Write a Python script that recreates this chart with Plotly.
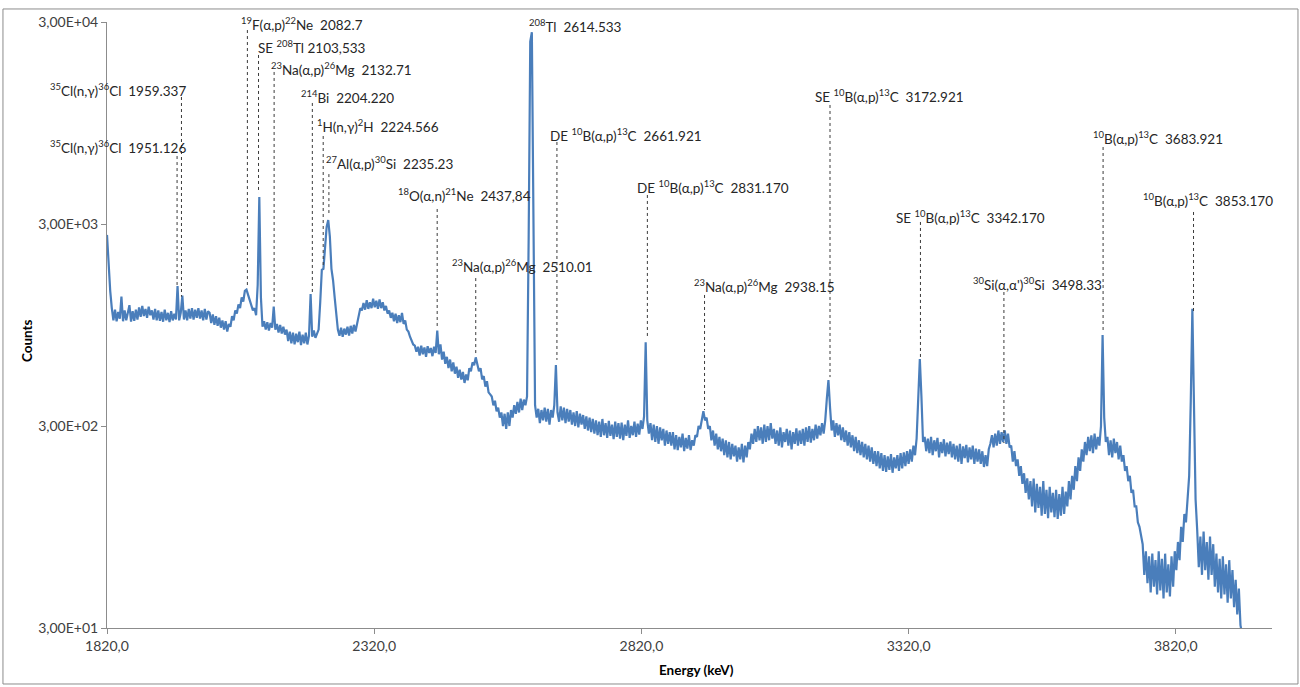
import math
import plotly.graph_objects as go

# ---------------- data ----------------
# spectrum channels (keV) and counts, 16 channels per row
energy_kev = [
    1820, 1823, 1826, 1829, 1832, 1835, 1838, 1841, 1844, 1847, 1850, 1853, 1856, 1859, 1862, 1865,
    1868, 1871, 1874, 1877, 1880, 1883, 1886, 1889, 1892, 1895, 1898, 1901, 1904, 1907, 1910, 1913,
    1916, 1919, 1922, 1925, 1928, 1931, 1934, 1937, 1940, 1943, 1946, 1949, 1952, 1955, 1958, 1961,
    1964, 1967, 1970, 1973, 1976, 1979, 1982, 1985, 1988, 1991, 1994, 1997, 2000, 2003, 2006, 2009,
    2012, 2015, 2018, 2021, 2024, 2027, 2030, 2033, 2036, 2039, 2042, 2045, 2048, 2051, 2054, 2057,
    2060, 2063, 2066, 2069, 2072, 2075, 2078, 2081, 2084, 2087, 2090, 2093, 2096, 2099, 2102, 2105,
    2108, 2111, 2114, 2117, 2120, 2123, 2126, 2129, 2132, 2135, 2138, 2141, 2144, 2147, 2150, 2153,
    2156, 2159, 2162, 2165, 2168, 2171, 2174, 2177, 2180, 2183, 2186, 2189, 2192, 2195, 2198, 2201,
    2204, 2207, 2210, 2213, 2216, 2219, 2222, 2225, 2228, 2231, 2234, 2237, 2240, 2243, 2246, 2249,
    2252, 2255, 2258, 2261, 2264, 2267, 2270, 2273, 2276, 2279, 2282, 2285, 2288, 2291, 2294, 2297,
    2300, 2303, 2306, 2309, 2312, 2315, 2318, 2321, 2324, 2327, 2330, 2333, 2336, 2339, 2342, 2345,
    2348, 2351, 2354, 2357, 2360, 2363, 2366, 2369, 2372, 2375, 2378, 2381, 2384, 2387, 2390, 2393,
    2396, 2399, 2402, 2405, 2408, 2411, 2414, 2417, 2420, 2423, 2426, 2429, 2432, 2435, 2438, 2441,
    2444, 2447, 2450, 2453, 2456, 2459, 2462, 2465, 2468, 2471, 2474, 2477, 2480, 2483, 2486, 2489,
    2492, 2495, 2498, 2501, 2504, 2507, 2510, 2513, 2516, 2519, 2522, 2525, 2528, 2531, 2534, 2537,
    2540, 2543, 2546, 2549, 2552, 2555, 2558, 2561, 2564, 2567, 2570, 2573, 2576, 2579, 2582, 2585,
    2588, 2591, 2594, 2597, 2600, 2603, 2606, 2609, 2612, 2615, 2618, 2621, 2624, 2627, 2630, 2633,
    2636, 2639, 2642, 2645, 2648, 2651, 2654, 2657, 2660, 2663, 2666, 2669, 2672, 2675, 2678, 2681,
    2684, 2687, 2690, 2693, 2696, 2699, 2702, 2705, 2708, 2711, 2714, 2717, 2720, 2723, 2726, 2729,
    2732, 2735, 2738, 2741, 2744, 2747, 2750, 2753, 2756, 2759, 2762, 2765, 2768, 2771, 2774, 2777,
    2780, 2783, 2786, 2789, 2792, 2795, 2798, 2801, 2804, 2807, 2810, 2813, 2816, 2819, 2822, 2825,
    2828, 2831, 2834, 2837, 2840, 2843, 2846, 2849, 2852, 2855, 2858, 2861, 2864, 2867, 2870, 2873,
    2876, 2879, 2882, 2885, 2888, 2891, 2894, 2897, 2900, 2903, 2906, 2909, 2912, 2915, 2918, 2921,
    2924, 2927, 2930, 2933, 2936, 2939, 2942, 2945, 2948, 2951, 2954, 2957, 2960, 2963, 2966, 2969,
    2972, 2975, 2978, 2981, 2984, 2987, 2990, 2993, 2996, 2999, 3002, 3005, 3008, 3011, 3014, 3017,
    3020, 3023, 3026, 3029, 3032, 3035, 3038, 3041, 3044, 3047, 3050, 3053, 3056, 3059, 3062, 3065,
    3068, 3071, 3074, 3077, 3080, 3083, 3086, 3089, 3092, 3095, 3098, 3101, 3104, 3107, 3110, 3113,
    3116, 3119, 3122, 3125, 3128, 3131, 3134, 3137, 3140, 3143, 3146, 3149, 3152, 3155, 3158, 3161,
    3164, 3167, 3170, 3173, 3176, 3179, 3182, 3185, 3188, 3191, 3194, 3197, 3200, 3203, 3206, 3209,
    3212, 3215, 3218, 3221, 3224, 3227, 3230, 3233, 3236, 3239, 3242, 3245, 3248, 3251, 3254, 3257,
    3260, 3263, 3266, 3269, 3272, 3275, 3278, 3281, 3284, 3287, 3290, 3293, 3296, 3299, 3302, 3305,
    3308, 3311, 3314, 3317, 3320, 3323, 3326, 3329, 3332, 3335, 3338, 3341, 3344, 3347, 3350, 3353,
    3356, 3359, 3362, 3365, 3368, 3371, 3374, 3377, 3380, 3383, 3386, 3389, 3392, 3395, 3398, 3401,
    3404, 3407, 3410, 3413, 3416, 3419, 3422, 3425, 3428, 3431, 3434, 3437, 3440, 3443, 3446, 3449,
    3452, 3455, 3458, 3461, 3464, 3467, 3470, 3473, 3476, 3479, 3482, 3485, 3488, 3491, 3494, 3497,
    3500, 3503, 3506, 3509, 3512, 3515, 3518, 3521, 3524, 3527, 3530, 3533, 3536, 3539, 3542, 3545,
    3548, 3551, 3554, 3557, 3560, 3563, 3566, 3569, 3572, 3575, 3578, 3581, 3584, 3587, 3590, 3593,
    3596, 3599, 3602, 3605, 3608, 3611, 3614, 3617, 3620, 3623, 3626, 3629, 3632, 3635, 3638, 3641,
    3644, 3647, 3650, 3653, 3656, 3659, 3662, 3665, 3668, 3671, 3674, 3677, 3680, 3683, 3686, 3689,
    3692, 3695, 3698, 3701, 3704, 3707, 3710, 3713, 3716, 3719, 3722, 3725, 3728, 3731, 3734, 3737,
    3740, 3743, 3746, 3749, 3752, 3755, 3758, 3761, 3764, 3767, 3770, 3773, 3776, 3779, 3782, 3785,
    3788, 3791, 3794, 3797, 3800, 3803, 3806, 3809, 3812, 3815, 3818, 3821, 3824, 3827, 3830, 3833,
    3836, 3839, 3842, 3845, 3848, 3851, 3854, 3857, 3860, 3863, 3866, 3869, 3872, 3875, 3878, 3881,
    3884, 3887, 3890, 3893, 3896, 3899, 3902, 3905, 3908, 3911, 3914, 3917, 3920, 3923, 3926, 3929,
    3932, 3935, 3938, 3941, 3944,
]

counts = [
    2650, 1900, 1400, 1150, 1000, 1130, 990, 1100, 1020, 1310, 990, 1120, 1000, 1090, 1190, 985,
    1110, 995, 1130, 1010, 1160, 1040, 1180, 1050, 1140, 1030, 1170, 1060, 1120, 1010, 1140, 1000,
    1120, 995, 1100, 985, 1130, 1000, 1090, 980, 1110, 1000, 1080, 1010, 1480, 1000, 1090, 1325,
    1010, 1120, 1000, 1140, 1020, 1150, 1010, 1130, 1030, 1150, 1020, 1120, 1000, 1140, 1010, 1110,
    1090, 970, 1070, 950, 1050, 940, 1030, 920, 1000, 900, 990, 880, 960, 930, 1050, 1000,
    1120, 1080, 1200, 1150, 1300, 1240, 1400, 1420, 1330, 1250, 1180, 1120, 1150, 1060, 1500, 4080,
    1300, 930, 990, 900, 980, 890, 970, 920, 1170, 900, 960, 870, 950, 860, 930, 850,
    900, 790, 880, 770, 870, 760, 860, 780, 880, 755, 850, 770, 870, 760, 840, 1350,
    830, 890, 820, 870, 900, 1230, 1780, 1800, 2300, 2900, 3140, 2600, 1800, 1580, 1300, 1050,
    900, 840, 920, 830, 910, 850, 930, 840, 940, 860, 950, 880, 970, 1050, 1150, 1120,
    1220, 1130, 1260, 1140, 1230, 1150, 1280, 1160, 1250, 1140, 1270, 1150, 1230, 1120, 1180, 1080,
    1120, 1030, 1090, 990, 1080, 970, 1060, 980, 1090, 960, 1000, 900, 880, 830, 800, 760,
    750, 700, 740, 670, 750, 680, 735, 660, 745, 690, 730, 665, 740, 690, 890, 680,
    760, 640, 700, 610, 660, 580, 640, 560, 620, 545, 590, 520, 570, 510, 555, 490,
    540, 505, 580, 560, 620, 600, 656, 600, 560, 580, 510, 530, 470, 500, 440, 430,
    420, 380, 400, 355, 370, 330, 350, 300, 345, 290, 350, 300, 360, 330, 380, 345,
    395, 350, 410, 360, 405, 380, 420, 2500, 24000, 26700, 3000, 380, 330, 365, 310, 360,
    320, 370, 315, 365, 305, 360, 330, 380, 601, 350, 315, 375, 320, 370, 310, 365,
    315, 360, 305, 350, 300, 355, 295, 345, 305, 340, 290, 335, 285, 330, 280, 325,
    275, 320, 270, 315, 265, 325, 270, 310, 262, 318, 268, 305, 258, 315, 265, 310,
    260, 312, 255, 305, 268, 320, 262, 300, 270, 315, 265, 308, 272, 320, 290, 335,
    780, 320, 275, 310, 255, 305, 250, 300, 245, 295, 255, 290, 240, 285, 245, 280,
    240, 280, 230, 270, 228, 265, 235, 275, 225, 262, 232, 270, 228, 255, 240, 270,
    265, 300, 290, 330, 355, 320, 330, 290, 300, 255, 285, 240, 275, 230, 265, 225,
    260, 215, 255, 210, 250, 205, 245, 212, 240, 200, 235, 205, 245, 198, 240, 210,
    250, 230, 275, 245, 290, 250, 300, 255, 295, 245, 305, 250, 300, 255, 310, 260,
    290, 245, 285, 240, 295, 235, 280, 250, 290, 240, 285, 230, 280, 245, 292, 240,
    285, 245, 290, 240, 295, 250, 300, 248, 290, 255, 305, 260, 300, 270, 310, 275,
    320, 410, 507, 370, 285, 320, 265, 310, 270, 305, 255, 295, 250, 285, 240, 280,
    235, 270, 225, 265, 220, 255, 215, 250, 210, 245, 205, 240, 200, 235, 195, 225,
    190, 225, 185, 220, 180, 215, 178, 212, 182, 218, 176, 210, 185, 215, 180, 220,
    185, 222, 190, 225, 195, 230, 200, 240, 215, 260, 450, 643, 420, 250, 265, 225,
    260, 220, 265, 215, 255, 225, 262, 210, 250, 220, 258, 212, 248, 218, 252, 210,
    245, 205, 240, 200, 245, 195, 238, 208, 242, 198, 235, 205, 240, 195, 232, 200,
    230, 195, 225, 188, 215, 190, 230, 245, 270, 235, 275, 240, 285, 245, 280, 250,
    285, 245, 275, 235, 240, 200, 225, 190, 205, 170, 190, 155, 175, 140, 165, 130,
    160, 120, 165, 112, 155, 118, 150, 108, 160, 110, 145, 105, 150, 112, 140, 106,
    145, 104, 138, 108, 150, 110, 142, 120, 160, 130, 170, 145, 190, 160, 210, 180,
    230, 200, 250, 215, 265, 225, 270, 220, 275, 230, 265, 240, 300, 847, 330, 250,
    265, 215, 255, 210, 260, 220, 250, 205, 240, 200, 215, 180, 190, 160, 170, 140,
    145, 120, 120, 100, 95, 85, 78, 55, 72, 50, 68, 45, 70, 48, 65, 44,
    72, 46, 66, 42, 70, 45, 62, 43, 68, 48, 72, 58, 80, 65, 95, 80,
    110, 100, 130, 170, 400, 1140, 380, 130, 92, 60, 85, 55, 90, 58, 80, 52,
    85, 55, 78, 48, 70, 45, 66, 42, 68, 44, 62, 40, 65, 42, 58, 38,
    52, 35, 47, 31, 28,
]

# tick labels
x_tick_values = [1820, 2320, 2820, 3320, 3820]
x_tick_labels = ["1820,0", "2320,0", "2820,0", "3320,0", "3820,0"]
y_tick_values = [30, 300, 3000, 30000]
y_tick_labels = ["3,00E+01", "3,00E+02", "3,00E+03", "3,00E+04"]

# peak identifications
peak_labels = [
    "<sup>35</sup>Cl(n,γ)<sup>36</sup>Cl\u00a0\u00a01959.337",
    "<sup>35</sup>Cl(n,γ)<sup>36</sup>Cl\u00a0\u00a01951.126",
    "<sup>19</sup>F(α,p)<sup>22</sup>Ne\u00a0\u00a02082.7",
    "SE <sup>208</sup>Tl 2103,533",
    "<sup>23</sup>Na(α,p)<sup>26</sup>Mg\u00a0\u00a02132.71",
    "<sup>214</sup>Bi\u00a0\u00a02204.220",
    "<sup>1</sup>H(n,γ)<sup>2</sup>H\u00a0\u00a02224.566",
    "<sup>27</sup>Al(α,p)<sup>30</sup>Si\u00a0\u00a02235.23",
    "<sup>18</sup>O(α,n)<sup>21</sup>Ne\u00a0\u00a02437,84",
    "<sup>23</sup>Na(α,p)<sup>26</sup>Mg\u00a0\u00a02510.01",
    "<sup>208</sup>Tl\u00a0\u00a02614.533",
    "DE <sup>10</sup>B(α,p)<sup>13</sup>C\u00a0\u00a02661.921",
    "DE <sup>10</sup>B(α,p)<sup>13</sup>C\u00a0\u00a02831.170",
    "<sup>23</sup>Na(α,p)<sup>26</sup>Mg\u00a0\u00a02938.15",
    "SE <sup>10</sup>B(α,p)<sup>13</sup>C\u00a0\u00a03172.921",
    "SE <sup>10</sup>B(α,p)<sup>13</sup>C\u00a0\u00a03342.170",
    "<sup>30</sup>Si(α,α')<sup>30</sup>Si\u00a0\u00a03498.33",
    "<sup>10</sup>B(α,p)<sup>13</sup>C\u00a0\u00a03683.921",
    "<sup>10</sup>B(α,p)<sup>13</sup>C\u00a0\u00a03853.170",
]
peak_energy = [1959.337, 1951.126, 2082.7, 2103.533, 2132.71, 2204.220, 2224.566, 2235.23,
               2437.84, 2510.01, 2614.533, 2661.921, 2831.170, 2938.15, 3172.921, 3342.170,
               3498.33, 3683.921, 3853.170]
# leader line extent in counts (top, bottom); None = no leader line
leader_top = [12760, 6510, 27380, 20600, 16970, 11920, 8180, 5300, 3560, 1620, None, 7640,
              4176, 1336, 11650, 3070, 1382, 7216, 3440]
leader_bottom = [1310, 1497, 1447, 4270, 1233, 1336, 1838, 3400, 927, 674, None, 637,
                 827, 360, 524, 650, 247, 870, 1088]

# label anchor: left edge (fraction of plot width) and count at text middle -- layout only
label_anchor_x = [-0.0498, -0.0498, 0.1142, 0.1289, 0.1400, 0.1657, 0.1794, 0.1872,
                  0.2491, 0.2954, 0.3615, 0.3795, 0.4543, 0.5032, 0.6071, 0.6766,
                  0.7427, 0.8459, 0.8888]
label_anchor_y = [13820, 7217, 29330, 22560, 17550, 12760, 9167, 6013, 4176, 1859, 28660, 8275,
                  4574, 1480, 12910, 3250, 1514, 7995, 3944]

# ---------------- figure ----------------
FONT = "Lato, 'Open Sans', Arial, sans-serif"
fig = go.Figure()

fig.add_trace(go.Scatter(
    x=energy_kev, y=counts, mode="lines",
    line=dict(color="#4A7EBB", width=2.2),
    showlegend=False, hoverinfo="skip",
))

lx, ly = [], []
for e, t, b in zip(peak_energy, leader_top, leader_bottom):
    if t is None:
        continue
    lx += [e, e, None]
    ly += [t, b, None]
fig.add_trace(go.Scatter(
    x=lx, y=ly, mode="lines",
    line=dict(color="#3a3a3a", width=1, dash="dot"),
    showlegend=False, hoverinfo="skip",
))

annotations = []
for txt, ax, ay in zip(peak_labels, label_anchor_x, label_anchor_y):
    annotations.append(dict(
        x=ax, y=math.log10(ay), xref="paper", yref="y", text=txt, showarrow=False,
        xanchor="left", yanchor="middle", borderpad=0,
        font=dict(family=FONT, size=13.5, color="#262626"),
    ))
annotations.append(dict(
    x=-0.0687, y=0.475, xref="paper", yref="paper", text="<b>Counts</b>",
    xanchor="center", yanchor="middle",
    showarrow=False, textangle=-90, font=dict(family=FONT, size=13.5, color="#000000"),
))
annotations.append(dict(
    x=0.506, y=-0.07, xref="paper", yref="paper", text="<b>Energy (keV)</b>",
    xanchor="center", yanchor="middle",
    showarrow=False, font=dict(family=FONT, size=13.5, color="#000000"),
))

fig.update_layout(
    width=1300, height=687,
    margin=dict(l=107, r=28, t=22, b=59),
    paper_bgcolor="white", plot_bgcolor="white",
    font=dict(family=FONT, size=13, color="#404040"),
    annotations=annotations,
    shapes=[dict(type="rect", xref="paper", yref="paper",
                 x0=-0.0893, x1=1.0223, y0=-0.0924, y1=1.0215,
                 line=dict(color="#8c8c8c", width=1), fillcolor="rgba(0,0,0,0)", layer="below")],
    xaxis=dict(
        range=[1820, 4000], tickvals=x_tick_values, ticktext=x_tick_labels,
        showline=True, linecolor="#8c8c8c", linewidth=1, ticks="outside", ticklen=5,
        tickcolor="#8c8c8c", showgrid=False, zeroline=False,
        tickfont=dict(family=FONT, size=14, color="#404040"),
    ),
    yaxis=dict(
        type="log", range=[math.log10(30), math.log10(30000)],
        tickvals=y_tick_values, ticktext=y_tick_labels,
        showline=True, linecolor="#8c8c8c", linewidth=1, ticks="outside", ticklen=5,
        tickcolor="#8c8c8c", showgrid=False, zeroline=False,
        tickfont=dict(family=FONT, size=14, color="#404040"),
    ),
)

fig.write_html(
    "out.html",
    config={"displayModeBar": False},
    post_script="document.body.style.margin='0';document.body.style.overflow='hidden';",
)
